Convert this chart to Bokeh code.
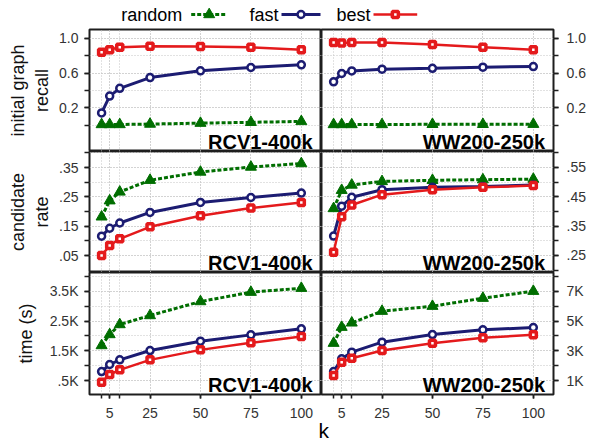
from bokeh.plotting import figure
from bokeh.layouts import column, row
from bokeh.models import Range1d, FixedTicker, Label
from bokeh.embed import file_html
from bokeh.resources import INLINE
from bokeh.core.properties import value

# ---------------- data ----------------
k = [1, 5, 10, 25, 50, 75, 100]
x_major = [5, 25, 50, 75, 100]
x_minor = [1, 5, 10, 25, 50, 75, 100]

series = ["random", "fast", "best"]
datasets = ["RCV1-400k", "WW200-250k"]

# initial graph recall
recall_rcv_random = [0.01, 0.01, 0.01, 0.015, 0.025, 0.035, 0.045]
recall_rcv_fast = [0.143, 0.336, 0.425, 0.548, 0.626, 0.664, 0.695]
recall_rcv_best = [0.838, 0.869, 0.896, 0.908, 0.904, 0.896, 0.869]
recall_ww_random = [0.01, 0.01, 0.01, 0.01, 0.012, 0.012, 0.013]
recall_ww_fast = [0.50, 0.595, 0.625, 0.645, 0.655, 0.668, 0.675]
recall_ww_best = [0.952, 0.946, 0.952, 0.952, 0.927, 0.896, 0.869]

# candidate rate
cand_rcv_random = [0.182, 0.237, 0.267, 0.307, 0.335, 0.352, 0.364]
cand_rcv_fast = [0.116, 0.143, 0.161, 0.197, 0.231, 0.248, 0.263]
cand_rcv_best = [0.050, 0.084, 0.107, 0.148, 0.186, 0.212, 0.231]
cand_ww_random = [0.41, 0.472, 0.49, 0.502, 0.506, 0.508, 0.51]
cand_ww_fast = [0.316, 0.418, 0.448, 0.474, 0.482, 0.485, 0.49]
cand_ww_best = [0.261, 0.382, 0.422, 0.457, 0.474, 0.482, 0.488]

# time (s)
time_rcv_random = [1676, 2046, 2382, 2684, 3154, 3468, 3602]
time_rcv_fast = [802, 1038, 1194, 1508, 1822, 2034, 2236]
time_rcv_best = [444, 702, 858, 1194, 1530, 1766, 1978]
time_ww_random = [3509, 4584, 4875, 5659, 5995, 6533, 7003]
time_ww_fast = [1605, 2456, 2904, 3576, 4091, 4405, 4562]
time_ww_best = [1336, 2232, 2501, 3016, 3509, 3867, 4069]

# tick values / labels
recall_major = [0.2, 0.6, 1.0]
recall_major_labels = ["0.2", "0.6", "1.0"]
recall_minor = [0.0, 0.2, 0.4, 0.6, 0.8, 1.0]
cand_rcv_major = [0.05, 0.15, 0.25, 0.35]
cand_rcv_major_labels = [".05", ".15", ".25", ".35"]
cand_rcv_minor = [0.05, 0.10, 0.15, 0.20, 0.25, 0.30, 0.35, 0.40]
cand_ww_major = [0.25, 0.35, 0.45, 0.55]
cand_ww_major_labels = [".25", ".35", ".45", ".55"]
cand_ww_minor = [0.20, 0.25, 0.30, 0.35, 0.40, 0.45, 0.50, 0.55, 0.60]
time_rcv_major = [500, 1500, 2500, 3500]
time_rcv_major_labels = [".5K", "1.5K", "2.5K", "3.5K"]
time_rcv_minor = [500, 1000, 1500, 2000, 2500, 3000, 3500, 4000]
time_ww_major = [1000, 3000, 5000, 7000]
time_ww_major_labels = ["1K", "3K", "5K", "7K"]
time_ww_minor = [1000, 2000, 3000, 4000, 5000, 6000, 7000, 8000]

row_titles = ["initial graph\nrecall", "candidate\nrate", "time (s)"]

# ---------------- style ----------------
FONT = "Liberation Sans"
GREEN = "#006e00"
NAVY = "#1c1c72"
RED = "#e41a1c"
GRID = "#c4c4c4"
FRAME = "#1e1e1e"

panels = [
    [dict(y=(-0.3, 1.1), vals=(recall_rcv_random, recall_rcv_fast, recall_rcv_best),
          major=recall_major, labels=recall_major_labels, minor=recall_minor),
     dict(y=(-0.3, 1.1), vals=(recall_ww_random, recall_ww_fast, recall_ww_best),
          major=recall_major, labels=recall_major_labels, minor=recall_minor)],
    [dict(y=(-0.008, 0.405), vals=(cand_rcv_random, cand_rcv_fast, cand_rcv_best),
          major=cand_rcv_major, labels=cand_rcv_major_labels, minor=cand_rcv_minor),
     dict(y=(0.192, 0.604), vals=(cand_ww_random, cand_ww_fast, cand_ww_best),
          major=cand_ww_major, labels=cand_ww_major_labels, minor=cand_ww_minor)],
    [dict(y=(30, 4130), vals=(time_rcv_random, time_rcv_fast, time_rcv_best),
          major=time_rcv_major, labels=time_rcv_major_labels, minor=time_rcv_minor),
     dict(y=(60, 8260), vals=(time_ww_random, time_ww_fast, time_ww_best),
          major=time_ww_major, labels=time_ww_major_labels, minor=time_ww_minor)],
]

FRAME_W = 232
LEFT_B = 89
RIGHT_B = 47
ROW_FRAME_H = [122, 121, 122]
TOP_B = [2, 0, 0]
BOT_B = [0, 0, 26]
TITLE_STANDOFF = [4, 4, 11]
LEGEND_H = 27
FOOT_H = 22
BASELINE_FIX = 5  # alphabetic-baseline compensation (px)


def style_axis(ax, major, labels, minor, standoff):
    ax.ticker = FixedTicker(ticks=major, minor_ticks=minor)
    ax.major_label_overrides = {t: s for t, s in zip(major, labels)}
    ax.axis_line_color = None
    ax.major_tick_line_color = FRAME
    ax.minor_tick_line_color = FRAME
    ax.major_tick_line_width = 1.5
    ax.minor_tick_line_width = 1.5
    ax.major_tick_out = 5
    ax.major_tick_in = 0
    ax.minor_tick_out = 5
    ax.minor_tick_in = 0
    ax.major_label_text_font = FONT
    ax.major_label_text_font_size = "14px"
    ax.major_label_text_color = "#333333"
    ax.major_label_standoff = standoff


def add_series(p, r_vals, f_vals, b_vals):
    p.line(k, r_vals, line_color=GREEN, line_width=3, line_dash="4 2")
    p.scatter(k, r_vals, marker="triangle", size=11, fill_color=GREEN,
              line_color=GREEN, line_width=1)
    p.line(k, f_vals, line_color=NAVY, line_width=3)
    p.scatter(k, f_vals, marker="circle", size=7, fill_color="white",
              line_color=NAVY, line_width=2.5)
    p.line(k, b_vals, line_color=RED, line_width=2.5)
    p.scatter(k, b_vals, marker="square", size=6, fill_color="white",
              line_color=RED, line_width=3.5)


figs = []
for r in range(3):
    row_figs = []
    for c in range(2):
        spec = panels[r][c]
        left = c == 0
        p = figure(
            width=(LEFT_B + FRAME_W) if left else (FRAME_W + RIGHT_B),
            height=ROW_FRAME_H[r] + TOP_B[r] + BOT_B[r],
            x_range=Range1d(-5, 110), y_range=Range1d(*spec["y"]),
            output_backend="svg", toolbar_location=None,
            x_axis_location="below" if r == 2 else None,
            y_axis_location="left" if left else "right",
            min_border=0,
            min_border_left=LEFT_B if left else 0,
            min_border_right=0 if left else RIGHT_B,
            min_border_top=TOP_B[r], min_border_bottom=BOT_B[r],
            background_fill_color="white", border_fill_color="white",
        )
        p.outline_line_color = FRAME
        p.outline_line_width = 2
        p.outline_line_alpha = 1

        p.xgrid.ticker = FixedTicker(ticks=x_major, minor_ticks=x_minor)
        p.ygrid.ticker = FixedTicker(ticks=spec["major"], minor_ticks=spec["minor"])
        for g in (p.xgrid, p.ygrid):
            g.grid_line_color = GRID
            g.grid_line_dash = "1 2"
            g.grid_line_width = 1
            g.minor_grid_line_color = GRID
            g.minor_grid_line_dash = "1 2"
            g.minor_grid_line_width = 1

        yax = p.yaxis[0]
        style_axis(yax, spec["major"], spec["labels"], spec["minor"], 6 if left else 8)
        if left:
            yax.axis_label = row_titles[r]
            yax.axis_label_text_font = FONT
            yax.axis_label_text_font_size = "18px"
            yax.axis_label_text_font_style = "normal"
            yax.axis_label_text_color = "#111111"
            yax.axis_label_standoff = TITLE_STANDOFF[r]

        if r == 2:
            xax = p.xaxis[0]
            style_axis(xax, x_major, [str(v) for v in x_major], x_minor, 9)
            xax.major_tick_out = 4
            xax.minor_tick_out = 4

        add_series(p, *spec["vals"])

        p.add_layout(Label(
            x=110, y=spec["y"][0], x_offset=-9 if left else -8.5, y_offset=5 + BASELINE_FIX,
            text=datasets[c], text_align="right", text_baseline="alphabetic",
            text_font=FONT, text_font_size="20px", text_font_style="bold",
            text_color="black"))
        row_figs.append(p)
    figs.append(row_figs)

TOTAL_W = LEFT_B + FRAME_W + FRAME_W + RIGHT_B

# ---------------- legend (top) ----------------
leg = figure(width=TOTAL_W, height=LEGEND_H, x_range=Range1d(0, TOTAL_W),
             y_range=Range1d(0, LEGEND_H),
             output_backend="svg", toolbar_location=None, min_border=0,
             x_axis_location=None, y_axis_location=None,
             background_fill_color="white", border_fill_color="white")
leg.outline_line_color = None
leg.xgrid.visible = False
leg.ygrid.visible = False

leg_text_end = [181.7, 278.0, 370.0]
leg_sample_start = [190.7, 281.0, 373.0]
leg_sample_len = [36.0, 39.0, 43.7]
leg_text_y = LEGEND_H - 19.3 + BASELINE_FIX
leg_line_y = LEGEND_H - 14
for i, name in enumerate(series):
    leg.text(x=[leg_text_end[i]], y=[leg_text_y], text=[name], text_align="right",
             text_baseline="alphabetic", text_font=value(FONT),
             text_font_size=value("18px"), text_color="black")
    x0 = leg_sample_start[i]
    x1 = x0 + leg_sample_len[i]
    xm = (x0 + x1) / 2
    if i == 0:
        leg.line([x0, x1], [leg_line_y, leg_line_y], line_color=GREEN, line_width=3, line_dash="4 2")
        leg.scatter([xm], [leg_line_y], marker="triangle", size=11, fill_color=GREEN, line_color=GREEN)
    elif i == 1:
        leg.line([x0, x1], [leg_line_y, leg_line_y], line_color=NAVY, line_width=3)
        leg.scatter([xm], [leg_line_y], marker="circle", size=7, fill_color="white",
                    line_color=NAVY, line_width=2.5)
    else:
        leg.line([x0, x1], [leg_line_y, leg_line_y], line_color=RED, line_width=2.5)
        leg.scatter([xm], [leg_line_y], marker="square", size=6, fill_color="white",
                    line_color=RED, line_width=3.5)

# ---------------- footer ("k") ----------------
foot = figure(width=TOTAL_W, height=FOOT_H, x_range=Range1d(0, TOTAL_W), y_range=Range1d(0, FOOT_H),
              output_backend="svg", toolbar_location=None, min_border=0,
              x_axis_location=None, y_axis_location=None,
              background_fill_color="white", border_fill_color="white")
foot.outline_line_color = None
foot.xgrid.visible = False
foot.ygrid.visible = False
foot.add_layout(Label(x=318, y=7 + BASELINE_FIX, text="k", text_align="left",
                      text_baseline="alphabetic", text_font=FONT, text_font_size="21px",
                      text_color="black"))

layout = column(leg, row(*figs[0]), row(*figs[1]), row(*figs[2]), foot)

open("out.html", "w").write(file_html(layout, INLINE))
